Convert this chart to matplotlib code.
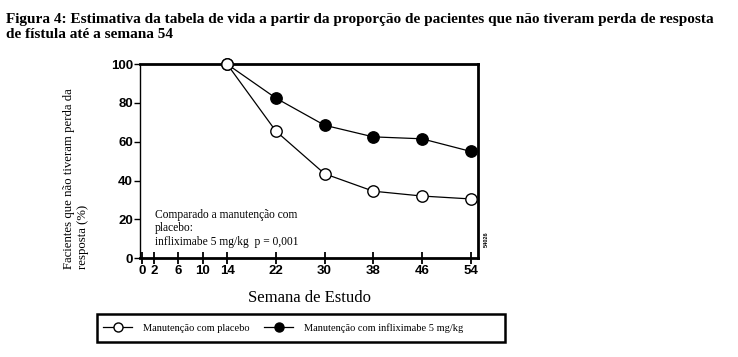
import matplotlib
matplotlib.use("Agg")
import matplotlib.pyplot as plt
from matplotlib.lines import Line2D
from matplotlib.patches import Rectangle

weeks = [14, 22, 30, 38, 46, 54]
placebo = [100, 65.5, 43.5, 34.5, 32, 30.5]
inflix = [100, 82.5, 68.5, 62.5, 61.5, 55]
xticks = [0, 2, 6, 10, 14, 22, 30, 38, 46, 54]
yticks = [0, 20, 40, 60, 80, 100]

title = ("Figura 4: Estimativa da tabela de vida a partir da proporção de pacientes que não tiveram perda de resposta\n"
         "de fístula até a semana 54")
ylabel = "Facientes que não tiveram perda da\nresposta (%)"
xlabel = "Semana de Estudo"
note = "Comparado a manutenção com\nplacebo:\ninfliximabe 5 mg/kg  p = 0,001"
lab_placebo = "Manutenção com placebo"
lab_inflix = "Manutenção com infliximabe 5 mg/kg"

W, H = 738, 357
fig = plt.figure(figsize=(7.38, 3.57), dpi=100)
ax = fig.add_axes([0.1897, 0.277, 0.458, 0.5434])

ax.plot(weeks, inflix, color="black", lw=0.9, marker="o", ms=8.2,
        mfc="black", mec="black", clip_on=False, zorder=3)
ax.plot(weeks, placebo, color="black", lw=0.9, marker="o", ms=8.2,
        mfc="white", mec="black", mew=1.0, clip_on=False, zorder=3)

ax.set_xlim(-0.3, 55.2)
ax.set_ylim(0, 100)
ax.set_xticks(xticks)
ax.set_yticks(yticks)
ax.set_xticklabels([str(t) for t in xticks], fontfamily="Liberation Sans",
                   fontweight="bold", fontsize=9.5)
ax.set_yticklabels([str(t) for t in yticks], fontfamily="Liberation Sans",
                   fontweight="bold", fontsize=9.5)
ax.tick_params(axis="x", direction="inout", length=8, width=1.3, pad=1)
ax.tick_params(axis="y", direction="out", length=4, width=1.0, pad=1)

for s in ["top", "right", "bottom"]:
    ax.spines[s].set_linewidth(2)
ax.spines["left"].set_linewidth(1)

ax.set_xlabel(xlabel, fontfamily="Liberation Serif", fontsize=12, labelpad=9)

fig.text(76 / W, 1 - 269 / H, ylabel, rotation=90, rotation_mode="anchor",
         ha="left", va="center", multialignment="left",
         fontfamily="Liberation Serif", fontsize=9.2, linespacing=1.25)

ax.text(2.1, 25.5, note, fontfamily="Liberation Serif", fontsize=8.3,
        va="top", ha="left", linespacing=1.2)

ax.text(1.025, 0.1, "54026", transform=ax.transAxes, rotation=90,
        fontsize=4, fontfamily="Liberation Sans", fontweight="bold",
        ha="center", va="center")

fig.text(6 / W, 1 - 13 / H, title, fontfamily="Liberation Serif", fontweight="bold",
         fontsize=11, va="top", ha="left", linespacing=1.18)

handles = [
    Line2D([], [], color="black", lw=0.9, marker="o", ms=6.5, mfc="white", mec="black"),
    Line2D([], [], color="black", lw=0.9, marker="o", ms=6.5, mfc="black", mec="black"),
]
leg = fig.legend(handles, [lab_placebo, lab_inflix], loc="center left",
                 bbox_to_anchor=(103 / W, 1 - 328 / H), ncol=2, frameon=False,
                 handlelength=2.8, handletextpad=1.0, columnspacing=1.45,
                 borderpad=0, borderaxespad=0,
                 prop={"family": "Liberation Serif", "size": 7.5})
fig.patches.append(Rectangle((97 / W, 1 - 342 / H), 408 / W, 28 / H,
                             transform=fig.transFigure, fill=False,
                             edgecolor="black", lw=1.8))

fig.savefig("out.png", dpi=100)
